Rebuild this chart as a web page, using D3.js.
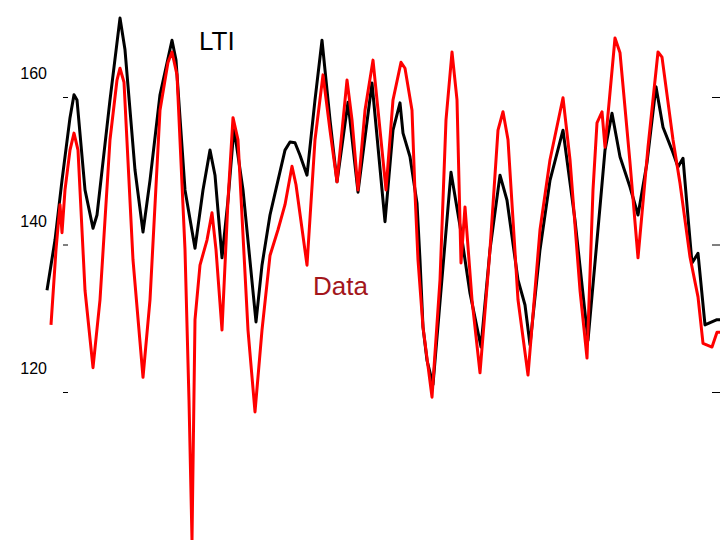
<!DOCTYPE html>
<html>
<head>
<meta charset="utf-8">
<script src='https://d3js.org/d3.v7.min.js'></script>
<style>
  body { margin: 0; background: #fff; }
</style>
</head>
<body>
<svg height="540" width="720"></svg>

<script>
  // y ticks
  var tickValues = [120, 140, 160];
  var tickLabels = ['120', '140', '160'];

  // LTI model output (sample index, value)
  var ltiT = [0, 8, 15, 23, 27, 30, 38, 46, 50, 63, 73, 78, 88, 96, 103, 113, 125, 129, 138, 148,
              156, 163, 168, 175, 181, 187, 196, 209, 215, 223, 231, 238, 243, 248, 253, 260, 268, 275, 283, 290,
              301, 311, 325, 338, 346, 353, 356, 363, 370, 373, 376, 380, 386, 404, 413, 423, 434, 443, 453, 460,
              471, 478, 483, 493, 503, 516, 528, 541, 553, 558, 565, 573, 583, 591, 600, 609, 616, 625, 631, 636,
              641, 645, 651, 658, 670, 673];
  var ltiV = [133.8, 140.6, 148.7, 157.2, 160.3, 159.6, 147.4, 142.2, 144.0, 159.6, 170.7, 166.4, 150.1, 141.7, 148.7, 160.3, 167.7, 165.0, 147.4, 139.5,
              147.4, 152.8, 149.4, 138.2, 146.0, 155.8, 147.4, 129.5, 137.2, 144.0, 148.7, 152.8, 153.9, 153.8, 152.1, 149.4, 159.6, 167.7, 156.9, 148.5,
              159.3, 147.1, 161.9, 143.1, 155.5, 159.2, 155.1, 151.9, 145.6, 137.9, 128.8, 124.3, 121.0, 149.8, 142.5, 133.4, 126.1, 139.3, 149.4, 146.0,
              135.2, 131.8, 126.4, 139.3, 148.7, 155.5, 143.3, 127.0, 145.1, 152.8, 157.8, 151.9, 147.8, 144.0, 151.1, 161.4, 155.9, 152.8, 150.5, 151.7,
              143.7, 137.5, 138.8, 129.1, 129.8, 129.8];

  // measured data (sample index, value)
  var dataT = [4, 9, 13, 15, 18, 23, 27, 31, 38, 46, 53, 63, 70, 73, 77, 86, 96, 103, 113, 121,
               125, 130, 138, 142, 145, 148, 153, 160, 165, 169, 175, 181, 186, 191, 201, 208, 215, 223, 231, 238,
               245, 249, 260, 268, 276, 283, 290, 300, 305, 311, 318, 326, 332, 339, 346, 354, 358, 365, 368, 371,
               376, 385, 393, 399, 405, 410, 414, 418, 425, 433, 443, 451, 456, 461, 471, 481, 493, 503, 516, 523,
               533, 540, 546, 550, 555, 558, 568, 573, 583, 591, 601, 611, 615, 626, 633, 643, 651, 656, 665, 670,
               673];
  var dataV = [129.1, 139.3, 145.4, 141.6, 147.4, 152.8, 155.1, 152.8, 133.8, 123.3, 132.5, 154.2, 162.3, 163.9, 162.0, 137.9, 122.0, 132.5, 158.2, 164.7,
               166.1, 163.0, 139.3, 118.9, 99.9, 129.8, 137.2, 140.6, 144.3, 139.3, 128.4, 146.0, 157.2, 154.2, 128.4, 117.3, 128.4, 138.5, 142.0, 145.4,
               150.6, 148.1, 137.2, 154.2, 163.0, 155.5, 148.5, 162.3, 156.9, 147.4, 158.2, 165.0, 156.9, 147.4, 159.6, 164.7, 163.9, 158.2, 147.0, 137.9,
               128.8, 119.3, 135.2, 156.9, 166.1, 159.6, 137.5, 145.1, 132.5, 122.6, 139.3, 155.5, 158.0, 154.2, 132.5, 122.3, 142.0, 151.5, 159.9, 151.5,
               133.8, 124.6, 147.4, 156.5, 158.0, 153.2, 168.0, 166.0, 151.1, 138.2, 153.2, 166.1, 165.4, 154.2, 148.3, 138.3, 132.9, 126.6, 126.1, 128.1,
               128.1];

  var svg = d3.select('svg');

  var x = d3.scaleLinear().domain([0, 673]).range([47, 720]);
  var y = d3.scaleLinear().domain([120, 160]).range([392, 97]);

  // small tick marks on both sides
  svg.append('g')
      .attr('transform', 'translate(63,0)')
      .call(d3.axisRight(y).tickValues(tickValues).tickSize(5).tickFormat(''))
      .call(function(g) { g.select('.domain').remove(); });

  svg.append('g')
      .attr('transform', 'translate(712,0)')
      .call(d3.axisRight(y).tickValues(tickValues).tickSize(8).tickFormat(''))
      .call(function(g) { g.select('.domain').remove(); });

  // tick labels sit a bit above their ticks
  svg.selectAll('.ylabel')
    .data(tickValues)
    .enter()
    .append('text')
      .attr('class', 'ylabel')
      .attr('x', 47)
      .attr('y', function(d) { return y(d) - 18; })
      .attr('text-anchor', 'end')
      .attr('font-family', 'Liberation Sans, Arial, sans-serif')
      .attr('font-size', 16)
      .attr('fill', '#000')
      .text(function(d, i) { return tickLabels[i]; });

  var line = d3.line()
      .x(function(d) { return x(d[0]); })
      .y(function(d) { return y(d[1]); });

  var lti = d3.zip(ltiT, ltiV);
  var meas = d3.zip(dataT, dataV);

  svg.append('path')
      .datum(lti)
      .attr('d', line)
      .attr('fill', 'none')
      .attr('stroke', '#000')
      .attr('stroke-width', 3)
      .attr('stroke-linejoin', 'round');

  svg.append('path')
      .datum(meas)
      .attr('d', line)
      .attr('fill', 'none')
      .attr('stroke', '#f00')
      .attr('stroke-width', 3)
      .attr('stroke-linejoin', 'round');

  // series labels
  svg.append('text')
      .attr('x', 199)
      .attr('y', 50)
      .attr('font-family', 'Liberation Sans, Arial, sans-serif')
      .attr('font-size', 26)
      .attr('fill', '#000')
      .text('LTI');

  svg.append('text')
      .attr('x', 313)
      .attr('y', 295)
      .attr('font-family', 'Liberation Sans, Arial, sans-serif')
      .attr('font-size', 26)
      .attr('fill', '#a3161b')
      .text('Data');
</script>
</body>
</html>
